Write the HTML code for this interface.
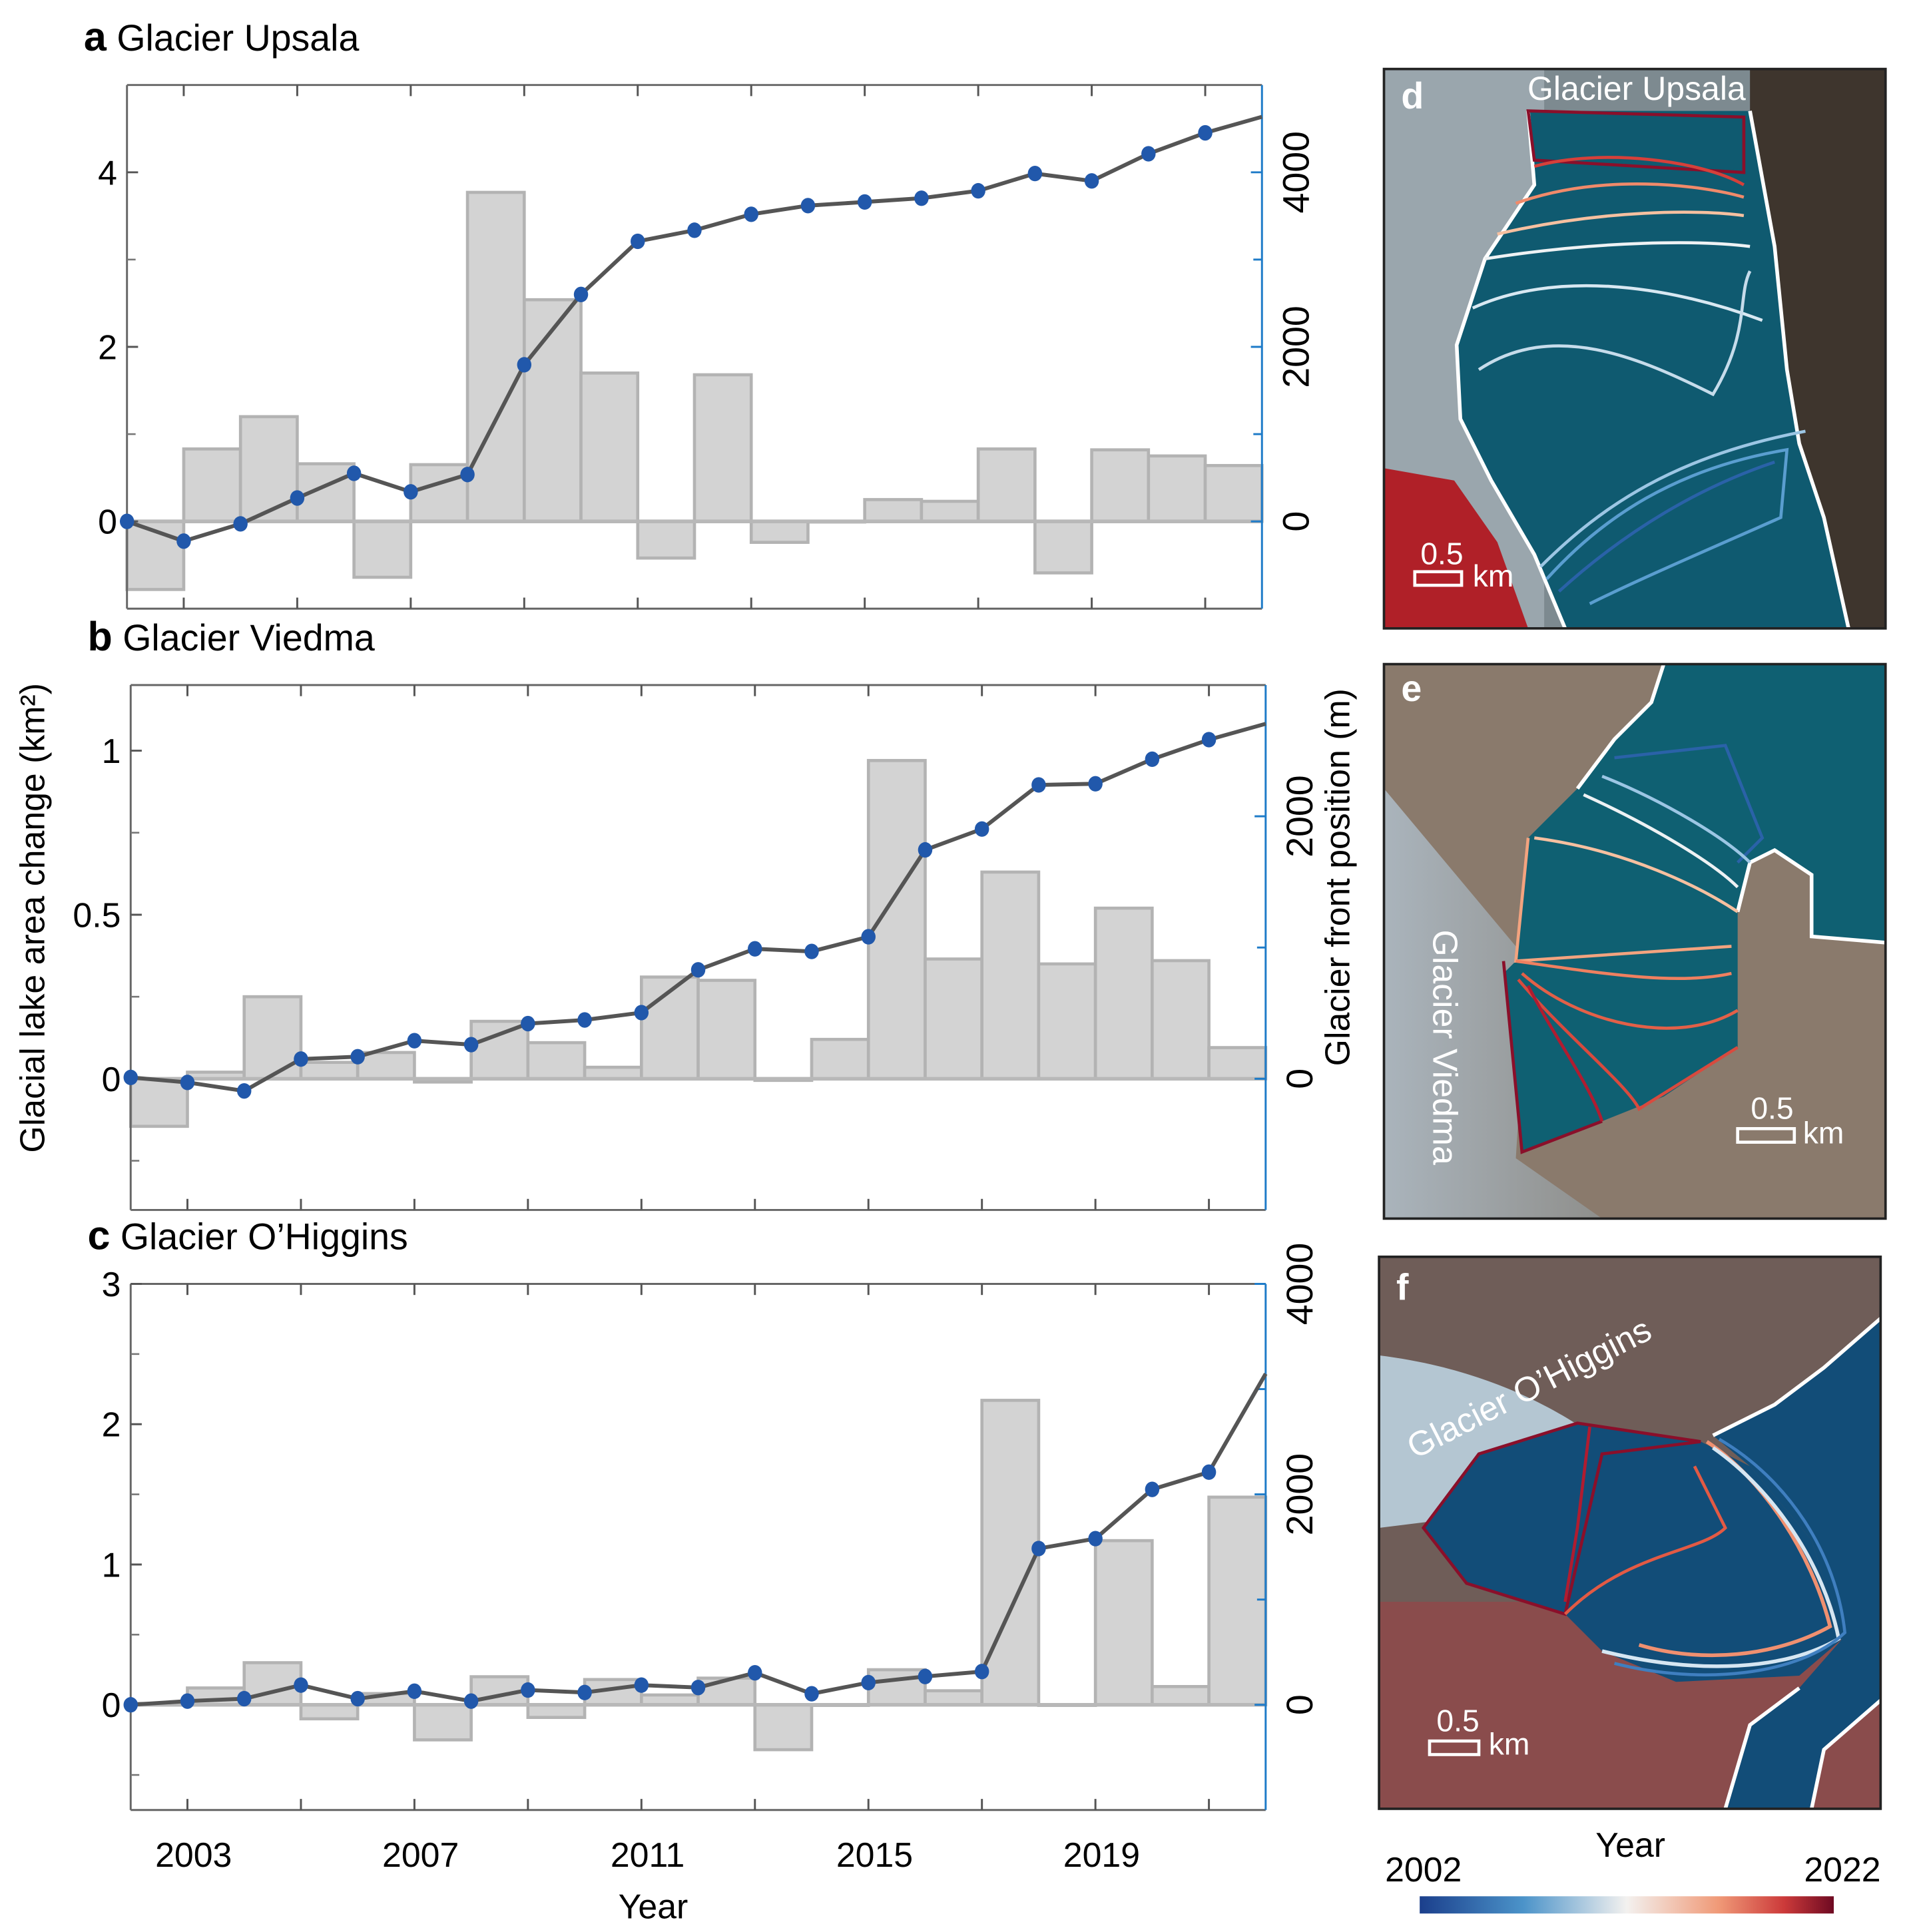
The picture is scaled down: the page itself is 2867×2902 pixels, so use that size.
<!DOCTYPE html>
<html><head><meta charset="utf-8"><style>
html,body{margin:0;padding:0;background:#fff;}
svg{display:block;font-family:"Liberation Sans",Arial,sans-serif;}
</style></head><body>
<svg id="fig" width="2867" height="2902" viewBox="0 0 1549 1568" xmlns="http://www.w3.org/2000/svg">
<defs>
<linearGradient id="cbar" x1="0" x2="1" y1="0" y2="0">
<stop offset="0" stop-color="#1b3f8c"/><stop offset="0.25" stop-color="#4b93c9"/><stop offset="0.5" stop-color="#f3f1ef"/><stop offset="0.72" stop-color="#f09a78"/><stop offset="0.88" stop-color="#cc3a3a"/><stop offset="1" stop-color="#6e0a22"/>
</linearGradient>
<linearGradient id="glac" x1="0" x2="1" y1="0" y2="0"><stop offset="0" stop-color="#aab4bc"/><stop offset="1" stop-color="#8f8f8c"/></linearGradient>
<clipPath id="cd"><rect x="1123" y="56" width="407" height="454"/></clipPath>
<clipPath id="ce"><rect x="1123" y="539" width="407" height="450"/></clipPath>
<clipPath id="cf"><rect x="1119" y="1020" width="407" height="448"/></clipPath>
</defs>
<g id="charts"></g>

<text transform="translate(36,745) rotate(-90)" text-anchor="middle" font-size="28">Glacial lake area change (km²)</text>
<text transform="translate(1095,712) rotate(-90)" text-anchor="middle" font-size="28">Glacier front position (m)</text>
<text x="530" y="1557" text-anchor="middle" font-size="28">Year</text>

<g clip-path="url(#cd)">
<rect x="1123" y="56" width="407" height="454" fill="#7d8a90"/>
<rect x="1123" y="56" width="130" height="454" fill="#9aa6ad"/>
<path d="M1123,380 L1180,390 L1215,440 L1240,510 L1123,510Z" fill="#b02028"/>
<path d="M1420,56 L1530,56 L1530,510 L1490,510 L1470,420 L1455,360 L1445,250 L1420,90Z" fill="#3e352d"/>
<path d="M1240,90 L1420,90 L1440,200 L1450,300 L1460,360 L1480,420 L1500,510 L1270,510 L1245,450 L1210,390 L1185,340 L1182,280 L1205,210 L1245,150Z" fill="#0f5a70"/>
<path d="M1240,90 L1245,150 L1205,210 L1182,280 L1185,340 L1210,390 L1245,450 L1270,510" fill="none" stroke="#fff" stroke-width="3"/>
<path d="M1420,90 L1440,200 L1450,300 L1460,360 L1480,420 L1500,510" fill="none" stroke="#fff" stroke-width="3"/>
<path d="M1240,90 L1415,95 L1415,140 L1245,130Z" fill="none" stroke="#8a0f2a" stroke-width="2.5"/>
<path d="M1245,135 C1300,120 1380,130 1415,150" fill="none" stroke="#d6403a" stroke-width="2.5"/>
<path d="M1230,165 C1300,140 1380,150 1415,160" fill="none" stroke="#f08a6a" stroke-width="2.5"/>
<path d="M1215,190 C1300,170 1380,170 1415,175" fill="none" stroke="#f6c0a0" stroke-width="2.5"/>
<path d="M1205,210 C1300,195 1380,195 1420,200" fill="none" stroke="#eef2f4" stroke-width="2.5"/>
<path d="M1195,250 C1260,220 1350,230 1430,260" fill="none" stroke="#d8e8f2" stroke-width="2.5"/>
<path d="M1200,300 C1260,260 1330,290 1390,320 C1420,270 1410,240 1420,220" fill="none" stroke="#c6dceb" stroke-width="2.5"/>
<path d="M1255,470 C1300,420 1360,380 1450,365 L1445,420 C1400,440 1330,470 1290,490" fill="none" stroke="#5a9ed0" stroke-width="2.5"/>
<path d="M1265,480 C1320,430 1380,395 1440,375" fill="none" stroke="#2a62a8" stroke-width="2.5"/>
<path d="M1250,460 C1300,410 1360,370 1465,350" fill="none" stroke="#9cc6e4" stroke-width="2.5"/>
</g>
<rect x="1123" y="56" width="407" height="454" fill="none" stroke="#222" stroke-width="2"/>
<text x="1137" y="88" font-size="30" font-weight="bold" fill="#fff">d</text>
<text x="1328" y="81" text-anchor="middle" font-size="27" fill="#fff">Glacier Upsala</text>
<rect x="1148" y="464" width="38" height="11" fill="none" stroke="#fff" stroke-width="2.5"/>
<text x="1170" y="458" text-anchor="middle" font-size="25" fill="#fff">0.5</text>
<text x="1195" y="476" font-size="25" fill="#fff">km</text>

<g clip-path="url(#ce)">
<rect x="1123" y="539" width="407" height="450" fill="#8a7a6c"/>
<path d="M1123,640 L1240,780 L1230,940 L1300,989 L1123,989Z" fill="url(#glac)"/>
<path d="M1350,539 L1530,539 L1530,765 L1470,760 L1470,710 L1440,690 L1420,700 L1410,740 L1410,850 L1350,890 L1300,910 L1235,935 L1220,790 L1230,780 L1240,680 L1280,640 L1310,600 L1340,570Z" fill="#0f6072"/>
<path d="M1350,539 L1340,570 L1310,600 L1280,640" fill="none" stroke="#fff" stroke-width="3"/>
<path d="M1410,740 L1420,700 L1440,690 L1470,710 L1470,760 L1530,765" fill="none" stroke="#fff" stroke-width="3"/>
<path d="M1310,615 L1400,605 L1430,680 L1410,700" fill="none" stroke="#2a62a8" stroke-width="2.5"/>
<path d="M1300,630 C1350,650 1400,680 1420,700" fill="none" stroke="#9cc6e4" stroke-width="2.5"/>
<path d="M1285,645 C1340,670 1390,700 1410,720" fill="none" stroke="#eef2f4" stroke-width="2.5"/>
<path d="M1245,680 C1320,690 1380,720 1410,740" fill="none" stroke="#f6c0a0" stroke-width="2.5"/>
<path d="M1240,680 L1230,780 L1405,768" fill="none" stroke="#f3a37f" stroke-width="2.5"/>
<path d="M1230,780 C1300,790 1360,800 1405,790" fill="none" stroke="#ef8060" stroke-width="2.5"/>
<path d="M1235,790 C1280,830 1360,850 1410,820" fill="none" stroke="#e36048" stroke-width="2.5"/>
<path d="M1232,795 C1270,840 1320,880 1330,900 L1410,850" fill="none" stroke="#d84a3e" stroke-width="2.5"/>
<path d="M1220,780 L1235,935 L1300,910" fill="none" stroke="#8a0f2a" stroke-width="2.5"/>
<path d="M1240,800 C1260,840 1290,880 1300,910" fill="none" stroke="#b01c30" stroke-width="2.5"/>
</g>
<rect x="1123" y="539" width="407" height="450" fill="none" stroke="#222" stroke-width="2"/>
<text x="1137" y="569" font-size="30" font-weight="bold" fill="#fff">e</text>
<text transform="translate(1163,850) rotate(90)" text-anchor="middle" font-size="28" fill="#fff">Glacier Viedma</text>
<rect x="1410" y="916" width="46" height="11" fill="none" stroke="#fff" stroke-width="2.5"/>
<text x="1438" y="908" text-anchor="middle" font-size="25" fill="#fff">0.5</text>
<text x="1463" y="928" font-size="25" fill="#fff">km</text>

<g clip-path="url(#cf)">
<rect x="1119" y="1020" width="407" height="448" fill="#6f5d58"/>
<rect x="1119" y="1300" width="407" height="168" fill="#8a4c4c"/>
<path d="M1119,1100 C1200,1110 1260,1140 1300,1170 L1200,1230 L1119,1240Z" fill="#b4c6d2"/>
<path d="M1526,1070 L1480,1110 L1440,1140 L1390,1165 L1420,1190 L1470,1250 L1495,1330 L1460,1370 L1420,1400 L1400,1468 L1470,1468 L1480,1420 L1526,1380Z" fill="#124d78"/>
<path d="M1155,1240 L1200,1180 L1280,1155 L1380,1170 L1420,1190 L1470,1250 L1495,1330 L1460,1360 L1360,1365 L1300,1340 L1270,1310 L1190,1285Z" fill="#124d78"/>
<path d="M1526,1070 L1480,1110 L1440,1140 L1390,1165" fill="none" stroke="#fff" stroke-width="3"/>
<path d="M1400,1468 L1420,1400 L1460,1370" fill="none" stroke="#fff" stroke-width="3"/>
<path d="M1470,1468 L1480,1420 L1526,1380" fill="none" stroke="#fff" stroke-width="3"/>
<path d="M1155,1240 L1200,1180 L1280,1155 L1380,1170 L1300,1180 L1270,1310 L1190,1285Z" fill="none" stroke="#8a0f2a" stroke-width="2.5"/>
<path d="M1290,1158 L1280,1240 L1270,1300" fill="none" stroke="#b01c30" stroke-width="2.5"/>
<path d="M1270,1310 C1320,1260 1380,1260 1400,1240 L1375,1190" fill="none" stroke="#e35a44" stroke-width="2.5"/>
<path d="M1385,1170 C1430,1200 1470,1260 1485,1320 C1440,1345 1380,1350 1330,1335" fill="none" stroke="#f09070" stroke-width="3"/>
<path d="M1390,1175 C1440,1210 1480,1270 1492,1330 C1450,1355 1380,1360 1300,1340" fill="none" stroke="#d6e6f2" stroke-width="3"/>
<path d="M1395,1168 C1450,1200 1490,1260 1497,1325 C1460,1360 1380,1368 1310,1350" fill="none" stroke="#3f7fc0" stroke-width="2.5"/>
</g>
<rect x="1119" y="1020" width="407" height="448" fill="none" stroke="#222" stroke-width="2"/>
<text x="1133" y="1055" font-size="30" font-weight="bold" fill="#fff">f</text>
<text transform="translate(1245,1135) rotate(-27)" text-anchor="middle" font-size="28" fill="#fff">Glacier O’Higgins</text>
<rect x="1160" y="1413" width="40" height="11" fill="none" stroke="#fff" stroke-width="2.5"/>
<text x="1183" y="1405" text-anchor="middle" font-size="25" fill="#fff">0.5</text>
<text x="1208" y="1424" font-size="25" fill="#fff">km</text>

<rect x="1152" y="1539" width="336" height="14" fill="url(#cbar)"/>
<text x="1155" y="1527" text-anchor="middle" font-size="28">2002</text>
<text x="1495" y="1527" text-anchor="middle" font-size="28">2022</text>
<text x="1323" y="1507" text-anchor="middle" font-size="28">Year</text>
</svg>
<script>
const years = [2002,2003,2004,2005,2006,2007,2008,2009,2010,2011,2012,2013,2014,2015,2016,2017,2018,2019,2020,2021,2022];
const xTickYears = [2003,2005,2007,2009,2011,2013,2015,2017,2019,2021];
const xTickLabels = ["2003","2007","2011","2015","2019"];
const upsalaArea = [-0.78,0.83,1.20,0.66,-0.64,0.65,3.77,2.54,1.70,-0.42,1.68,-0.24,0,0.25,0.23,0.83,-0.59,0.82,0.75,0.64];
const upsalaFront = [0,-226,-28,268,551,339,537,1795,2600,3209,3336,3519,3618,3660,3703,3788,3986,3901,4212,4452,4636];
const viedmaArea = [-0.145,0.02,0.25,0.05,0.08,-0.01,0.175,0.11,0.035,0.31,0.30,-0.005,0.12,0.97,0.365,0.63,0.35,0.52,0.36,0.095];
const viedmaFront = [10,-28,-93,150,168,290,260,420,448,504,830,990,970,1082,1744,1903,2239,2248,2435,2584,2705];
const ohigginsArea = [0.01,0.12,0.30,-0.10,0.08,-0.25,0.20,-0.09,0.18,0.07,0.19,-0.32,0,0.25,0.10,2.17,0,1.17,0.13,1.48];
const ohigginsFront = [0,35,58,187,58,129,35,140,117,187,164,304,105,211,269,316,1485,1579,2047,2211,3146];
const upsalaLeftTicks = [4,2,0], upsalaLeftMinor = [3,1], upsalaRightTicks = [4000,2000,0], upsalaRightMinor = [3000,1000];
const viedmaLeftTicks = [1,0.5,0], viedmaLeftTickLabels = ["1","0.5","0"], viedmaLeftMinor = [0.75,0.25,-0.25], viedmaRightTicks = [2000,0], viedmaRightMinor = [1000];
const ohigginsLeftTicks = [3,2,1,0], ohigginsLeftMinor = [2.5,1.5,0.5,-0.5], ohigginsRightTicks = [4000,2000,0], ohigginsRightMinor = [3000,1000];

const NS = "http://www.w3.org/2000/svg";
const root = document.getElementById('charts');
function mk(tag, attrs, parent){ const e=document.createElementNS(NS,tag); for(const k in attrs) e.setAttribute(k,attrs[k]); (parent||root).appendChild(e); return e; }

function panel(id, title, box, yl, yr, area, front, lt, ltl, lmin, rt, rmin, showX){
  const g = mk('g',{});
  
  
  const X = y => box.x0 + (y-2002)/(2022-2002)*(box.x1-box.x0);
  const YL = v => box.y1 - (v-yl[0])/(yl[1]-yl[0])*(box.y1-box.y0);
  const YR = v => box.y1 - (v-yr[0])/(yr[1]-yr[0])*(box.y1-box.y0);
  const t = mk('text',{x:box.x0-35,y:box.y0-28,'font-size':30},g);
  
  
  t.innerHTML = '<tspan font-weight="bold" font-size="33">'+id.slice(-1)+'</tspan> '+title;
  area.forEach((v,i)=>{
    const xa=X(years[i]), xb=X(years[i+1]);
    const ya=YL(Math.max(v,0)), yb=YL(Math.min(v,0));
    const r = mk('rect',{x:xa,y:ya,width:xb-xa,height:Math.max(yb-ya,0.5),fill:'#d3d3d3',stroke:'#b3b3b3','stroke-width':2.5},g);
    
    
  });
  mk('line',{x1:box.x0,x2:box.x1,y1:YL(0),y2:YL(0),stroke:'#b8b8b8','stroke-width':3},g);
  mk('line',{x1:box.x0,x2:box.x1,y1:box.y0,y2:box.y0,stroke:'#666','stroke-width':1.6},g);
  mk('line',{x1:box.x0,x2:box.x1,y1:box.y1,y2:box.y1,stroke:'#666','stroke-width':1.6},g);
  mk('line',{x1:box.x0,x2:box.x0,y1:box.y0,y2:box.y1,stroke:'#666','stroke-width':1.6},g);
  mk('line',{x1:box.x1,x2:box.x1,y1:box.y0,y2:box.y1,stroke:'#1e7bc8','stroke-width':1.6},g);
  xTickYears.forEach(y=>{
    mk('line',{x1:X(y),x2:X(y),y1:box.y0,y2:box.y0+9,stroke:'#555','stroke-width':1.6},g);
    mk('line',{x1:X(y),x2:X(y),y1:box.y1,y2:box.y1-9,stroke:'#555','stroke-width':1.6},g);
  });
  lt.forEach((v,i)=>{
    mk('line',{x1:box.x0,x2:box.x0+9,y1:YL(v),y2:YL(v),stroke:'#555','stroke-width':1.6},g);
    const tl = mk('text',{x:box.x0-8,y:YL(v)+10,'text-anchor':'end','font-size':28},g);
    
    
    tl.textContent = ltl ? ltl[i] : String(v);
  });
  lmin.forEach(v=> mk('line',{x1:box.x0,x2:box.x0+7,y1:YL(v),y2:YL(v),stroke:'#777','stroke-width':1.4},g));
  rt.forEach(v=>{
    mk('line',{x1:box.x1,x2:box.x1-9,y1:YR(v),y2:YR(v),stroke:'#1e7bc8','stroke-width':1.6},g);
    const tr = mk('text',{transform:'translate('+(box.x1+38)+','+YR(v)+') rotate(-90)','text-anchor':'middle','font-size':30},g);
    
    
    tr.textContent = String(v);
  });
  rmin.forEach(v=> mk('line',{x1:box.x1,x2:box.x1-7,y1:YR(v),y2:YR(v),stroke:'#1e7bc8','stroke-width':1.6},g));
  const pts = front.map((v,i)=>X(years[i])+','+YR(v)).join(' ');
  const pl = mk('polyline',{points:pts,fill:'none',stroke:'#555','stroke-width':3.2},g);
  
  
  front.slice(0,front.length-1).forEach((v,i)=>{
    const c = mk('ellipse',{cx:X(years[i]),cy:YR(v),rx:5.8,ry:6.3,fill:'#2158ab'},g);
    
    
  });
  if(showX){
    xTickLabels.forEach(s=>{
      const tx = mk('text',{x:X(+s)+5,y:box.y1+46,'text-anchor':'middle','font-size':28},g);
      
      
      tx.textContent = s;
    });
  }
}
panel('panel-a','Glacier Upsala',{x0:103,x1:1024,y0:69,y1:494},[-1,5],[-1000,5000],upsalaArea,upsalaFront,upsalaLeftTicks,null,upsalaLeftMinor,upsalaRightTicks,upsalaRightMinor,false);
panel('panel-b','Glacier Viedma',{x0:106,x1:1027,y0:556,y1:982},[-0.4,1.2],[-1000,3000],viedmaArea,viedmaFront,viedmaLeftTicks,viedmaLeftTickLabels,viedmaLeftMinor,viedmaRightTicks,viedmaRightMinor,false);
panel('panel-c','Glacier O’Higgins',{x0:106,x1:1027,y0:1042,y1:1469},[-0.75,3],[-1000,4000],ohigginsArea,ohigginsFront,ohigginsLeftTicks,null,ohigginsLeftMinor,ohigginsRightTicks,ohigginsRightMinor,true);
</script>
</body></html>
